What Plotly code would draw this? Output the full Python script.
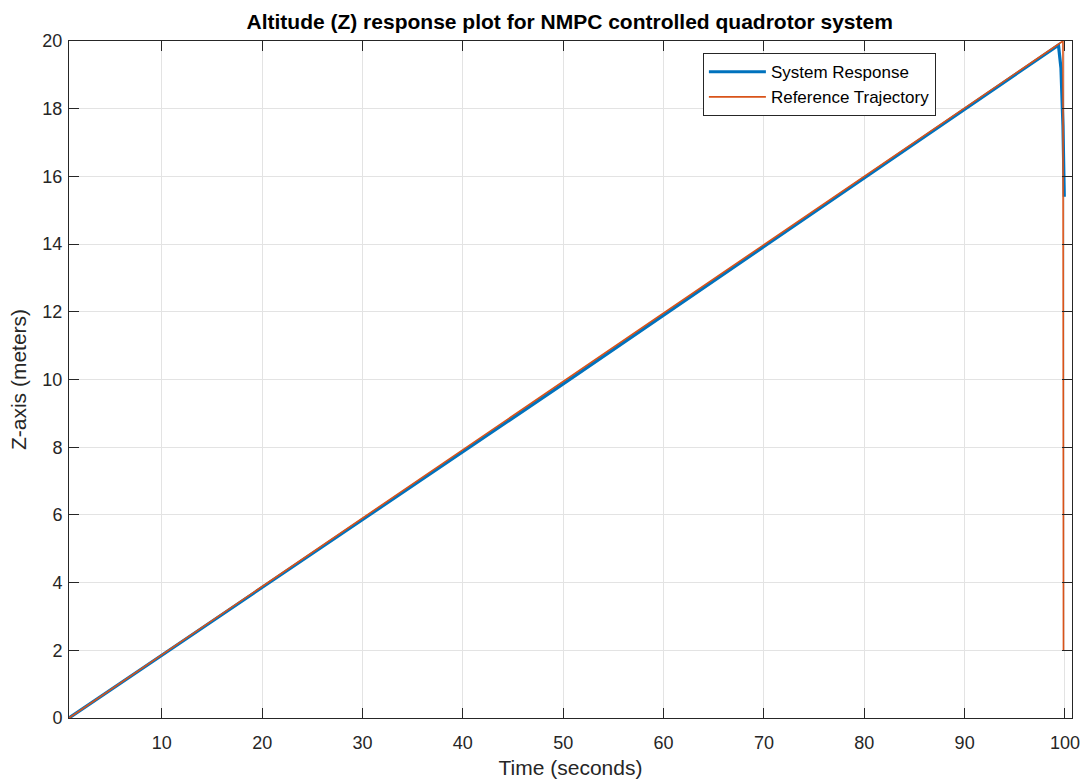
import plotly.graph_objects as go

# Data
t_resp = [0.75, 50.0, 99.35, 99.6, 99.8, 99.93]
z_resp = [0.0, 9.87, 19.88, 19.2, 17.5, 15.4]

t_ref = [0.75, 99.8, 99.85]
z_ref = [0.0, 20.0, 2.0]

x_ticks = [10, 20, 30, 40, 50, 60, 70, 80, 90, 100]
y_ticks = [0, 2, 4, 6, 8, 10, 12, 14, 16, 18, 20]

FONT = "Liberation Sans, Arial, Helvetica, sans-serif"
AXC = "#262626"

fig = go.Figure()
fig.add_trace(go.Scatter(x=t_resp, y=z_resp, mode="lines", name="System Response",
                         line=dict(color="#0072BD", width=3.2)))
fig.add_trace(go.Scatter(x=t_ref, y=z_ref, mode="lines", name="Reference Trajectory",
                         line=dict(color="#D95319", width=1.6)))

axis_common = dict(showline=True, linecolor=AXC, linewidth=1, mirror="ticks",
                   ticks="inside", ticklen=10, tickcolor=AXC, tickwidth=1,
                   showgrid=True, gridcolor="#E3E3E3", gridwidth=1, zeroline=False,
                   automargin=False,
                   tickfont=dict(family=FONT, size=18, color=AXC))

fig.update_xaxes(range=[0.75, 100.7], tickvals=x_ticks, ticklabelstandoff=8,
                 title=dict(text="Time (seconds)", font=dict(family=FONT, size=21, color=AXC), standoff=8),
                 **axis_common)
fig.update_yaxes(range=[0, 20], tickvals=y_ticks, ticklabelstandoff=2,
                 title=dict(text="Z-axis (meters)", font=dict(family=FONT, size=21, color=AXC), standoff=10),
                 **axis_common)

fig.update_layout(
    width=1081, height=781,
    margin=dict(l=69, r=9, t=41, b=63),
    paper_bgcolor="white", plot_bgcolor="white",
    title=dict(text="<b>Altitude (Z) response plot for NMPC controlled quadrotor system</b>",
               x=0.527, xanchor="center", y=0.972, yanchor="middle",
               font=dict(family=FONT, size=21, color="black")),
    legend=dict(x=0.632, y=0.982, xanchor="left", yanchor="top",
                bgcolor="white", bordercolor=AXC, borderwidth=1,
                font=dict(family=FONT, size=17, color="black"),
                itemwidth=57, tracegroupgap=0),
    showlegend=True,
)

fig.write_html("out.html")
